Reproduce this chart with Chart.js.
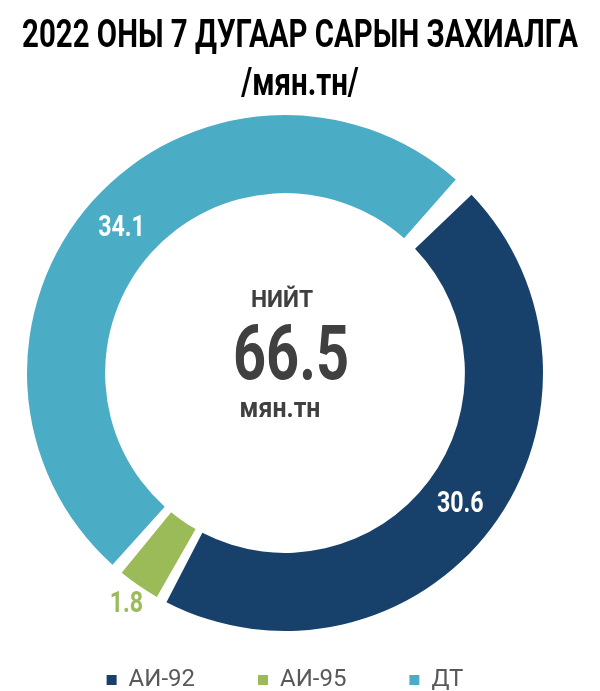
<!DOCTYPE html>
<html>
<head>
<meta charset="utf-8">
<script src="https://cdn.jsdelivr.net/npm/chart.js@4.4.1/dist/chart.umd.min.js"></script>
<style>
  html, body { margin: 0; padding: 0; background: #fff; overflow: hidden; }
  #page { position: relative; width: 600px; height: 691px; overflow: hidden; }
  .title {
    position: absolute; left: 300px; white-space: nowrap; color: #000;
    font-family: Roboto, "DejaVu Sans", sans-serif;
    font-weight: bold; font-size: 38px; line-height: 48px;
    transform-origin: 0 0;
  }
  #t1 { top: 10px; }
  #t2 { top: 58px; }
  #box { position: absolute; left: 0; top: 0; width: 600px; height: 702px; }
</style>
</head>
<body>
<div id="page">
  <div id="box"><canvas id="myChart"></canvas></div>
  <div class="title" id="t1">2022 ОНЫ 7 ДУГААР САРЫН ЗАХИАЛГА</div>
  <div class="title" id="t2">/мян.тн/</div>
</div>
<script>
const fuelLabels = ["АИ-92", "АИ-95", "ДТ"];
const fuelValues = [30.6, 1.8, 34.1];
const fuelColors = ["#17406A", "#9BBB59", "#4BACC6"];
const totalLabel = "НИЙТ";
const totalValue = "66.5";
const unitLabel = "мян.тн";

const FONT = 'Roboto, "DejaVu Sans", sans-serif';

// the original uses a narrow DIN-like face, squeeze the title to its width
const t1 = document.getElementById('t1');
const t2 = document.getElementById('t2');
const squeeze = 556 / t1.getBoundingClientRect().width;
t1.style.transform = 'scaleX(' + squeeze + ') translateX(-50%)';
t2.style.transform = 'scaleX(' + squeeze + ') translateX(-50%)';

function narrowText(ctx, text, x, y, sx) {
  ctx.save();
  ctx.translate(x, y);
  ctx.scale(sx, 1);
  ctx.fillText(text, 0, 0);
  ctx.restore();
}

// labels on the slices; the small one goes outside
const sliceLabels = {
  id: 'sliceLabels',
  afterDatasetsDraw(chart) {
    const ctx = chart.ctx;
    const arcs = chart.getDatasetMeta(0).data;
    const total = fuelValues.reduce((a, b) => a + b, 0);
    ctx.save();
    ctx.textAlign = 'center';
    ctx.textBaseline = 'middle';
    ctx.font = 'bold 29px ' + FONT;
    arcs.forEach(function(arc, i) {
      const p = arc.getProps(['x', 'y', 'startAngle', 'endAngle', 'innerRadius', 'outerRadius']);
      const mid = (p.startAngle + p.endAngle) / 2;
      let r, color;
      if (fuelValues[i] / total < 0.05) {
        r = p.outerRadius + 28;
        color = fuelColors[i];
      } else {
        r = (p.innerRadius + p.outerRadius) / 2 + 6;
        color = '#fff';
      }
      ctx.fillStyle = color;
      narrowText(ctx, fuelValues[i].toFixed(1), p.x + Math.cos(mid) * r, p.y + Math.sin(mid) * r + 1, 0.8);
    });
    ctx.restore();
  }
};

// total in the hole
const centerText = {
  id: 'centerText',
  afterDraw(chart) {
    const ctx = chart.ctx;
    const arc = chart.getDatasetMeta(0).data[0];
    const cx = arc.x, cy = arc.y;
    ctx.save();
    ctx.textAlign = 'center';
    ctx.textBaseline = 'alphabetic';
    ctx.fillStyle = '#404040';
    ctx.font = 'bold 24px ' + FONT;
    narrowText(ctx, totalLabel, cx - 3, cy - 66, 0.95);
    ctx.font = 'bold 76px ' + FONT;
    narrowText(ctx, totalValue, cx + 6, cy + 6, 0.76);
    ctx.font = 'bold 27px ' + FONT;
    narrowText(ctx, unitLabel, cx - 5, cy + 44, 0.92);
    ctx.restore();
  }
};

new Chart("myChart", {
  type: "doughnut",
  data: {
    labels: fuelLabels,
    datasets: [{
      data: fuelValues,
      backgroundColor: fuelColors,
      borderWidth: 0,
      spacing: 12,
      clip: false
    }]
  },
  plugins: [sliceLabels, centerText],
  options: {
    responsive: true,
    maintainAspectRatio: false,
    animation: false,
    rotation: 44,
    radius: 252,
    cutout: '69%',
    layout: {
      padding: { top: 141, right: 30, left: 0, bottom: 0 }
    },
    plugins: {
      tooltip: { enabled: false },
      title: { display: false },
      legend: {
        display: true,
        position: 'bottom',
        labels: {
          boxWidth: 10,
          boxHeight: 10,
          padding: 63,
          color: '#595959',
          font: { family: FONT, size: 24 }
        }
      }
    }
  }
});
</script>
</body>
</html>
